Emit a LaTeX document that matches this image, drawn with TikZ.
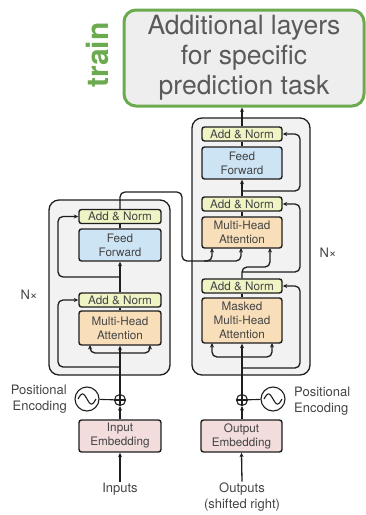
\documentclass[tikz,border=0pt]{standalone}
\usepackage{fontspec}
\setmainfont{TeX Gyre Heros}
\usetikzlibrary{arrows.meta,calc}

\definecolor{anfill}{HTML}{F0F3C4}
\definecolor{fffill}{HTML}{CDE4F5}
\definecolor{attfill}{HTML}{F8DFBA}
\definecolor{embfill}{HTML}{F2DCDC}
\definecolor{stackfill}{HTML}{F2F2F2}
\definecolor{topfill}{HTML}{EEEEEE}
\definecolor{traingreen}{HTML}{6BAA4F}
\definecolor{boxtext}{HTML}{444444}
\definecolor{toptext}{HTML}{5A5A5A}
\definecolor{edge}{HTML}{1E1E1E}

\begin{document}
\begin{tikzpicture}[x=1pt,y=-1pt,
  blk/.style={draw=edge, line width=1.4pt, rounded corners=2.5pt, inner sep=0pt,
    align=center, text=boxtext, font=\fontsize{11.7}{14}\selectfont},
  an/.style={blk, fill=anfill, minimum width=#1, minimum height=14pt},
  ff/.style={blk, fill=fffill, minimum width=#1, minimum height=32pt},
  att/.style={blk, fill=attfill, minimum width=#1},
  emb/.style={blk, fill=embfill, minimum width=#1, minimum height=32pt},
  stack/.style={draw=edge, line width=1.3pt, rounded corners=10pt, fill=stackfill, inner sep=0pt},
  wire/.style={draw=edge, line width=1.3pt, rounded corners=5pt},
  arr/.style={wire, -{Stealth[length=4.5pt,width=4pt]}},
  lbl/.style={text=boxtext, font=\fontsize{13}{16}\selectfont, inner sep=1pt},
  plus/.style={circle, draw=edge, line width=1.1pt, minimum size=11pt, inner sep=0pt},
  sine/.style={circle, draw=edge, line width=1.1pt, minimum size=24pt, inner sep=0pt}
]
\useasboundingbox (0,0) rectangle (366,515);

% ---------- task head ----------
\node[draw=traingreen, line width=3pt, rounded corners=12pt, fill=topfill,
      minimum width=240pt, minimum height=96pt, inner sep=0pt, align=center,
      text=toptext, font=\fontsize{26.5}{30}\selectfont]
  (head) at (244,58) {Additional layers\\for specific\\prediction task};
\node[rotate=90, text=traingreen, font=\fontsize{30}{30}\selectfont\bfseries, inner sep=0pt]
  (train) at (97,55) {train};

% ---------- encoder ----------
\node[stack, minimum width=121pt, minimum height=175pt] (encstack) at (109.5,287.5) {};
\node[an=82pt]  (eAN2) at (120,216.5) {Add \& Norm};
\node[ff=82pt]  (eFF)  at (120,245)   {Feed\\Forward};
\node[an=82pt]  (eAN1) at (120,300)   {Add \& Norm};
\node[att=82pt, minimum height=34pt] (eMHA) at (120,328) {Multi-Head\\Attention};
\node[emb=82pt] (eEmb) at (120,436)   {Input\\Embedding};
\node[plus] (ePlus) at (120,400) {};
\node[sine] (eSine) at (87,399) {};
\node[lbl] (eN) at (29,295) {N×};
\node[lbl, align=right, anchor=east] (ePos) at (68,399) {Positional\\Encoding};
\node[lbl] (inputs) at (120,489) {Inputs};

% ---------- decoder ----------
\node[stack, minimum width=118pt, minimum height=257pt] (decstack) at (251,246.5) {};
\node[an=80pt]  (dAN3) at (242,134)   {Add \& Norm};
\node[ff=80pt]  (dFF)  at (242,163)   {Feed\\Forward};
\node[an=80pt]  (dAN2) at (242,204)   {Add \& Norm};
\node[att=80pt, minimum height=31pt] (dMHA) at (242,232.5) {Multi-Head\\Attention};
\node[an=80pt]  (dAN1) at (242,286)   {Add \& Norm};
\node[att=80pt, minimum height=45pt] (dMMHA) at (242,320.5) {Masked\\Multi-Head\\Attention};
\node[emb=81pt] (dEmb) at (241.5,436) {Output\\Embedding};
\node[plus] (dPlus) at (242,400) {};
\node[sine] (dSine) at (273,399) {};
\node[lbl] (dN) at (328,253) {N×};
\node[lbl, align=left, anchor=west] (dPos) at (293,401) {Positional\\Encoding};
\node[lbl, align=center] (outputs) at (242,497) {Outputs\\(shifted right)};

% ---------- positional encoding glyphs ----------
\foreach \p/\s in {ePlus/eSine, dPlus/dSine}{
  \draw[edge, line width=1.1pt] (\p.north) -- (\p.south) (\p.west) -- (\p.east);
  \draw[edge, line width=1.1pt] (\s) -- (\p);
  \draw[edge, line width=1.1pt, shift={(\s)}]
    plot[smooth, domain=-1:1, samples=25] ({9*\x},{5*sin(180*\x)});
}

% ---------- encoder wiring ----------
\draw[arr] (inputs.north) -- (eEmb.south);
\draw[arr] (eEmb.north) -- (ePlus.south);
\draw[arr] (ePlus.north) -- (eMHA.south);
\coordinate (eR1) at (120,367);
\coordinate (eS)  at (120,353);
\draw[arr] (eS) -- (90,353) -- (90,345);
\draw[arr] (eS) -- (150,353) -- (150,345);
\draw[arr] (eR1) -- (58,367) -- (58,300) -- (eAN1.west);
\draw[wire] (eMHA.north) -- (eAN1.south);
\draw[arr] (eAN1.north) -- (eFF.south);
\coordinate (eR2) at (120,277);
\draw[arr] (eR2) -- (58,277) -- (58,216.5) -- (eAN2.west);
\draw[wire] (eFF.north) -- (eAN2.south);
% encoder output into the decoder's middle attention
\draw[arr] (eAN2.north) -- (120,192) -- (182,192) -- (182,261) -- (212,261) -- (212,248);
\draw[arr] (204,261) -- (241,261) -- (241,248);

% ---------- decoder wiring ----------
\draw[arr] (outputs.north) -- (dEmb.south);
\draw[arr] (dEmb.north -| dPlus) -- (dPlus.south);
\draw[arr] (dPlus.north) -- (dMMHA.south);
\coordinate (dS)  at (242,357);
\coordinate (dR1) at (242,368);
\draw[arr] (dS) -- (212,357) -- (212,343);
\draw[arr] (dS) -- (272,357) -- (272,343);
\draw[arr] (dR1) -- (300,368) -- (300,286) -- (dAN1.east);
\draw[wire] (dMMHA.north) -- (dAN1.south);
\draw[arr] (dAN1.north) -- (242,267) -- (270,267) -- (270,248);
\coordinate (dR2) at (242,272);
\draw[arr] (dR2) -- (300,272) -- (300,204) -- (dAN2.east);
\draw[wire] (dMHA.north) -- (dAN2.south);
\draw[arr] (dAN2.north) -- (dFF.south);
\coordinate (dR3) at (242,191);
\draw[arr] (dR3) -- (300,191) -- (300,134) -- (dAN3.east);
\draw[wire] (dFF.north) -- (dAN3.south);
\draw[arr] (dAN3.north) -- (dAN3.north |- head.south);
\end{tikzpicture}
\end{document}
